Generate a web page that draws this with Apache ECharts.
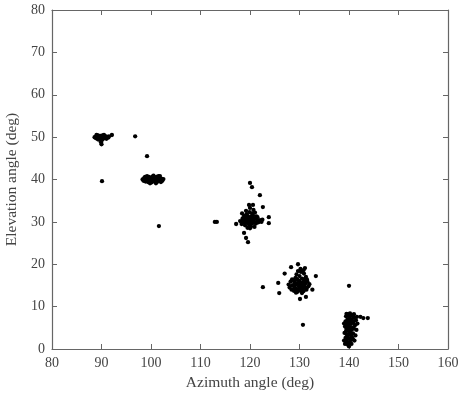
<!DOCTYPE html>
<html>
<head>
<meta charset="utf-8">
<script src="https://cdn.jsdelivr.net/npm/echarts@6/dist/echarts.min.js"></script>
<style>
  html, body { margin: 0; padding: 0; background: #fff; }
  #chart { width: 463px; height: 414px; }
</style>
</head>
<body>
<div id="chart"></div>
<script>
// axis ticks
var xTicks = [80, 90, 100, 110, 120, 130, 140, 150, 160]
var yTicks = [0, 10, 20, 30, 40, 50, 60, 70, 80]

// source 1, around (90, 50)
var cluster1 = [
  [88.6, 50.0], [88.8, 49.8], [88.9, 50.2], [89.1, 49.6], [89.2, 50.0], [89.3, 50.4], [89.5, 49.7],
  [89.6, 50.1], [89.7, 49.5], [89.8, 50.3], [90.0, 49.8], [90.0, 50.1], [90.2, 50.4], [90.2, 49.6],
  [90.4, 50.0], [90.5, 49.7], [90.6, 50.3], [90.8, 49.9], [90.9, 50.2], [91.0, 49.6], [91.2, 50.0],
  [91.4, 49.9], [91.5, 50.2], [89.4, 49.4], [90.1, 49.3], [89.9, 48.8], [90.0, 48.3], [89.0, 50.5],
  [90.5, 50.5], [92.1, 50.5], [96.8, 50.2], [99.2, 45.5], [90.1, 39.6]
]
// source 2, around (100, 40)
var cluster2 = [
  [98.3, 40.0], [98.5, 39.7], [98.6, 40.3], [98.9, 39.5], [99.0, 40.0], [99.1, 40.5], [99.4, 39.4],
  [99.5, 39.9], [99.6, 40.6], [99.9, 39.6], [100.0, 40.2], [100.1, 39.3], [100.3, 40.7], [100.4, 39.8],
  [100.6, 40.3], [100.8, 39.5], [100.9, 40.0], [101.1, 40.6], [101.2, 39.4], [101.4, 40.1], [101.6, 39.7],
  [101.7, 40.4], [101.9, 39.9], [102.1, 40.2], [102.3, 39.7], [102.5, 40.1], [99.2, 40.8], [100.5, 40.9],
  [101.5, 40.8], [99.8, 39.1], [101.0, 39.1], [100.2, 40.0], [99.7, 40.3], [101.3, 39.9], [101.6, 29.0],
  [98.8, 40.6], [100.6, 39.6], [101.8, 40.8], [102.0, 39.4]
]
// source 3, around (120, 30)
var cluster3 = [
  [118.0, 30.2], [118.3, 29.5], [118.5, 30.8], [118.7, 29.9], [118.8, 31.4], [119.0, 29.2], [119.1, 30.5],
  [119.3, 31.8], [119.4, 29.8], [119.5, 28.6], [119.6, 30.9], [119.8, 30.2], [119.9, 32.3], [120.0, 29.4],
  [120.1, 31.2], [120.2, 28.9], [120.3, 30.6], [120.4, 32.0], [120.5, 29.7], [120.6, 31.5], [120.8, 30.1],
  [120.9, 28.8], [121.0, 30.8], [121.2, 29.6], [121.3, 31.3], [121.5, 30.3], [121.7, 29.9], [122.0, 30.4],
  [122.3, 30.0], [119.2, 32.6], [120.7, 32.8], [120.0, 33.3], [121.0, 32.2],
  [119.0, 30.0], [119.5, 30.3], [120.0, 30.0], [120.0, 30.8], [120.5, 30.4], [119.5, 31.4], [120.5, 31.0],
  [119.0, 31.0], [121.0, 29.8], [120.0, 28.5], [119.8, 29.3], [121.5, 31.1], [118.5, 30.0], [122.5, 30.5],
  [120.3, 29.9],
  [120.0, 39.2], [120.4, 38.2], [122.0, 36.3], [112.9, 30.0], [113.3, 30.0], [118.8, 27.4], [119.2, 26.2],
  [119.6, 25.2], [123.8, 31.1], [123.8, 29.7], [122.6, 33.5], [119.8, 34.0], [120.6, 34.0], [118.4, 32.0],
  [117.2, 29.5]
]
// source 4, around (130, 15)
var cluster4 = [
  [127.8, 15.2], [128.0, 14.5], [128.2, 15.9], [128.4, 14.0], [128.5, 16.4], [128.7, 15.0], [128.9, 13.7],
  [129.0, 15.7], [129.2, 16.8], [129.3, 14.3], [129.5, 15.4], [129.6, 13.5], [129.8, 16.2], [129.9, 14.8],
  [130.0, 17.2], [130.1, 13.8], [130.2, 15.6], [130.4, 14.2], [130.5, 16.6], [130.6, 15.1], [130.8, 13.6],
  [130.9, 16.0], [131.0, 14.6], [131.2, 15.5], [131.3, 17.0], [131.4, 14.0], [131.6, 15.9], [131.8, 14.8],
  [132.0, 15.3], [130.3, 18.2], [130.8, 18.6], [129.7, 18.4], [130.2, 18.9], [130.9, 17.8], [129.4, 17.6],
  [128.5, 15.0], [129.0, 14.5], [129.0, 16.0], [129.5, 14.0], [129.5, 16.5], [130.0, 15.0], [130.0, 14.2],
  [130.0, 16.0], [130.5, 14.5], [130.5, 15.5], [131.0, 15.2], [131.0, 16.5], [131.5, 14.5], [129.2, 15.2],
  [130.7, 13.9], [128.8, 16.3], [131.5, 16.4], [129.3, 13.3], [130.5, 13.2],
  [129.7, 20.0], [128.3, 19.3], [131.1, 19.1], [133.3, 17.2], [125.7, 15.6], [125.9, 13.2], [130.1, 11.8],
  [131.3, 12.3], [130.7, 5.7], [122.6, 14.6], [127.0, 17.8], [132.6, 14.0]
]
// source 5, around (140, 5)
var cluster5 = [
  [139.2, 1.2], [139.5, 1.8], [139.8, 1.0], [140.1, 1.5], [140.4, 2.1], [139.3, 2.6], [139.7, 3.0],
  [140.0, 2.4], [140.3, 3.3], [140.6, 2.8], [139.1, 3.8], [139.4, 4.2], [139.8, 4.6], [140.2, 4.0],
  [140.5, 4.5], [140.8, 3.7], [139.2, 5.3], [139.6, 5.7], [140.0, 5.2], [140.4, 5.9], [140.7, 5.0],
  [141.0, 4.8], [139.3, 6.5], [139.7, 6.9], [140.1, 6.4], [140.5, 7.0], [140.9, 6.2], [141.2, 5.6],
  [139.4, 7.7], [139.8, 8.2], [140.2, 7.6], [140.6, 8.0], [141.0, 7.4], [141.4, 6.8], [141.6, 7.6],
  [141.3, 3.2], [141.5, 4.5], [141.7, 6.0], [139.0, 2.0], [139.0, 6.0], [140.0, 0.6], [141.1, 2.0],
  [139.5, 1.3], [140.5, 1.2], [139.6, 2.3], [140.8, 2.3], [139.5, 3.5], [140.5, 3.5], [140.0, 3.5],
  [139.5, 4.8], [140.3, 4.9], [140.0, 4.3], [139.9, 6.0], [140.7, 6.6], [139.5, 6.2], [140.3, 6.8],
  [140.0, 7.2], [139.5, 8.3], [140.2, 8.4], [141.0, 8.2],
  [140.0, 14.9], [142.9, 7.3], [143.8, 7.3], [142.3, 7.6]
]

var chart = echarts.init(document.getElementById('chart'))
var font = 'Liberation Serif'
var lineColor = '#666'

function boxAxis (pos, ticks, show) {
  return {
    type: 'value',
    position: pos,
    min: ticks[0],
    max: ticks[ticks.length - 1],
    interval: 10,
    splitLine: { show: false },
    axisLine: { show: true, onZero: false, lineStyle: { color: lineColor, width: 1.2 } },
    axisTick: { show: true, inside: true, length: 5, lineStyle: { color: lineColor } },
    axisLabel: { show: show, color: '#444', fontFamily: font, fontSize: 14, margin: 7 }
  }
}

var xBottom = boxAxis('bottom', xTicks, true)
xBottom.name = 'Azimuth angle (deg)'
xBottom.nameLocation = 'middle'
xBottom.nameGap = 26
xBottom.nameTextStyle = { color: '#444', fontFamily: font, fontSize: 15.5 }
var yLeft = boxAxis('left', yTicks, true)
yLeft.name = 'Elevation angle (deg)'
yLeft.nameLocation = 'middle'
yLeft.nameGap = 27
yLeft.nameTextStyle = { color: '#444', fontFamily: font, fontSize: 15.5 }

var option = {
  animation: false,
  grid: { left: 52, right: 15, top: 10, bottom: 65, containLabel: false, outerBoundsMode: 'none' },
  xAxis: [xBottom, boxAxis('top', xTicks, false)],
  yAxis: [yLeft, boxAxis('right', yTicks, false)],
  series: [
    {
      type: 'scatter',
      symbol: 'circle',
      symbolSize: 4.3,
      itemStyle: { color: '#000', opacity: 1 },
      data: [].concat(cluster1, cluster2, cluster3, cluster4, cluster5)
    }
  ]
}
chart.setOption(option)
</script>
</body>
</html>
